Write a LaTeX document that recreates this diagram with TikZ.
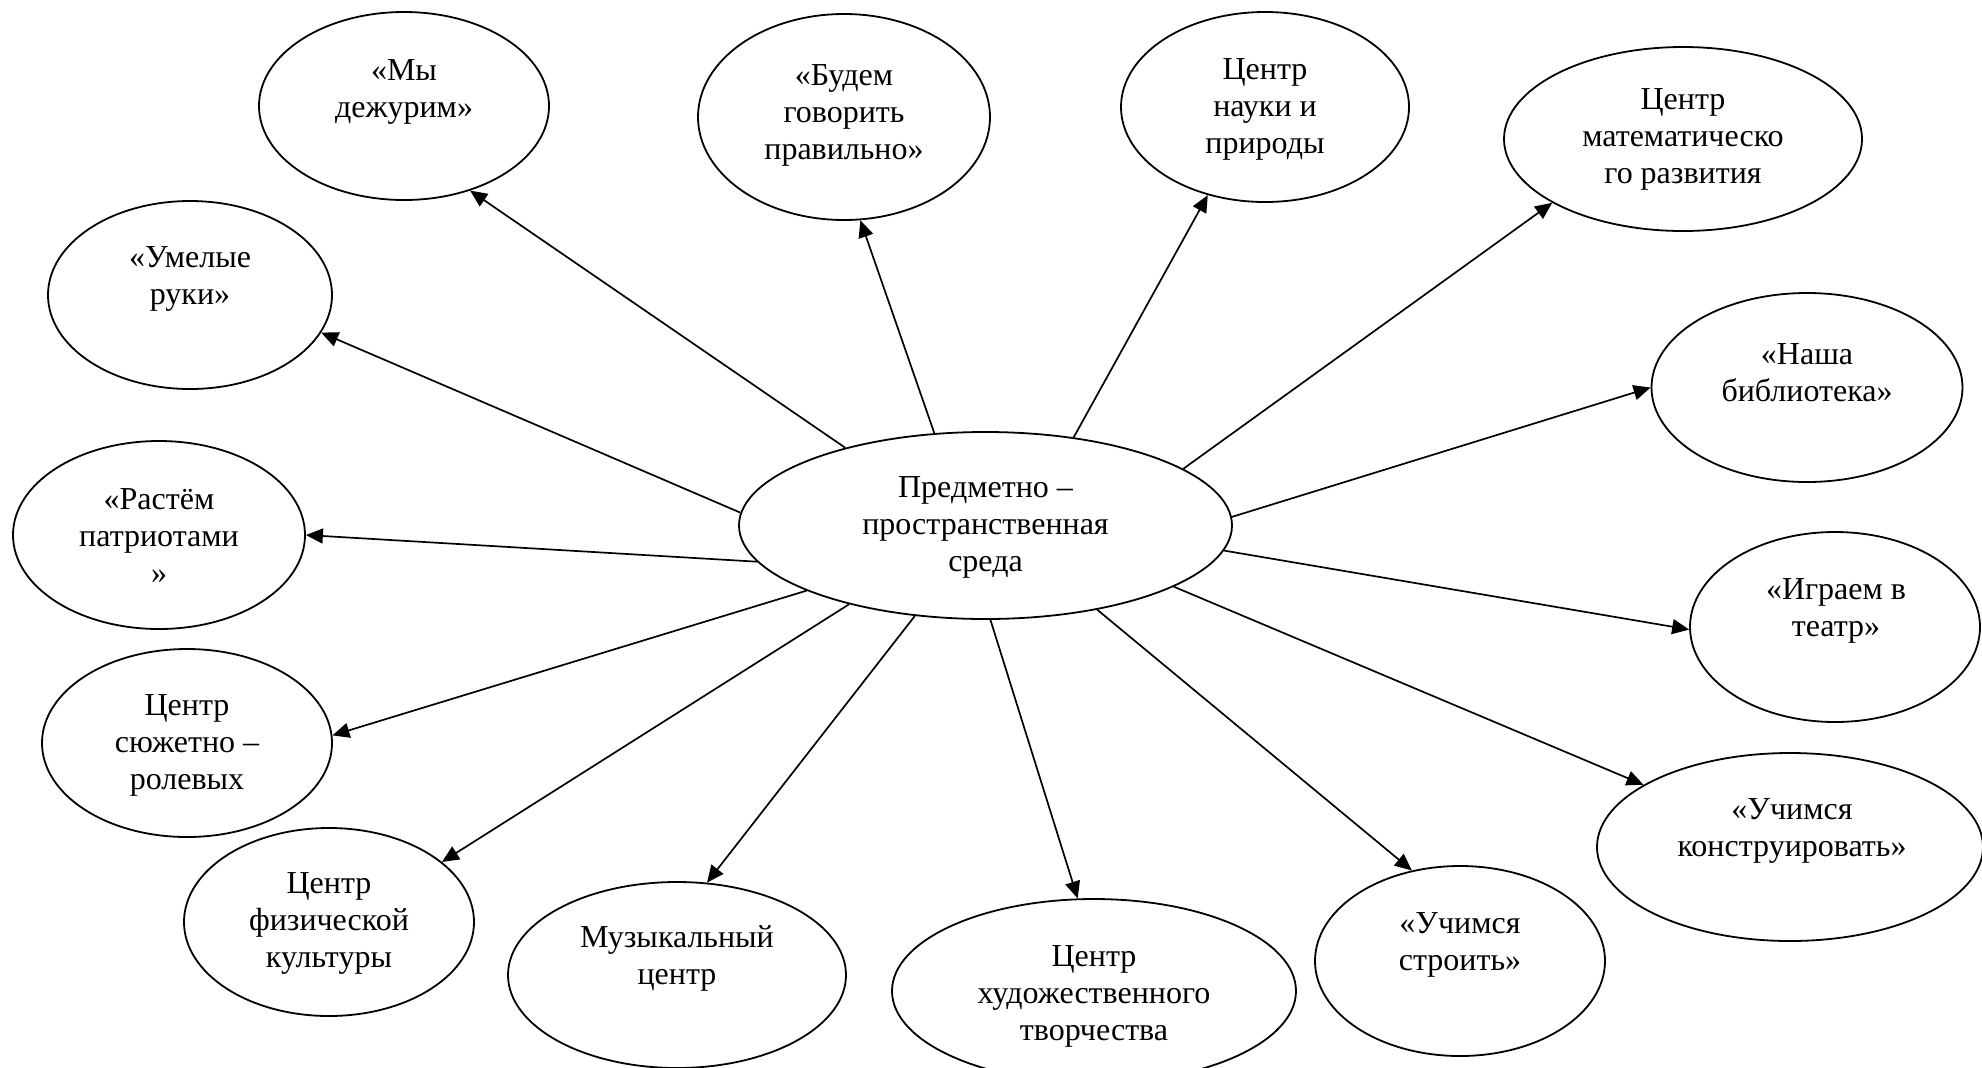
\documentclass[tikz,border=0pt]{standalone}
\usepackage{fontspec}
\setmainfont{Liberation Serif}
\usetikzlibrary{shapes.geometric,arrows.meta}
\begin{document}
\begin{tikzpicture}[x=0.5pt,y=-0.5pt,
  ell/.style={draw, ellipse, line width=0.9pt, inner sep=0pt},
  txt/.style={align=center, font=\fontsize{16}{18.5}\selectfont, inner sep=0pt},
  arr/.style={-{Triangle[length=8.5pt,width=7.5pt]}, line width=0.85pt}]
\useasboundingbox (0,0) rectangle (1982,1067);
% ellipses (minimum width/height in pt = half-axes in px)
\node[ell, minimum width=246.5pt, minimum height=93.5pt] (c) at (985.5,525.5) {};
\node[ell, minimum width=145pt, minimum height=94pt] (my) at (404,106) {};
\node[ell, minimum width=146pt, minimum height=103pt] (bud) at (844,117) {};
\node[ell, minimum width=144pt, minimum height=95pt] (nauka) at (1265,107) {};
\node[ell, minimum width=179pt, minimum height=92pt] (mat) at (1683,139) {};
\node[ell, minimum width=142pt, minimum height=94pt] (um) at (190,295) {};
\node[ell, minimum width=155.5pt, minimum height=94.5pt] (bib) at (1807,387.5) {};
\node[ell, minimum width=146pt, minimum height=94pt] (ras) at (159,535) {};
\node[ell, minimum width=145pt, minimum height=95pt] (igr) at (1835,627) {};
\node[ell, minimum width=145pt, minimum height=94pt] (sju) at (187,743) {};
\node[ell, minimum width=145pt, minimum height=94pt] (fiz) at (329,922) {};
\node[ell, minimum width=169pt, minimum height=93pt] (muz) at (677,975) {};
\node[ell, minimum width=202pt, minimum height=92pt] (hud) at (1094,991) {};
\node[ell, minimum width=145pt, minimum height=95pt] (str) at (1460,961) {};
\node[ell, minimum width=193pt, minimum height=94pt] (kon) at (1790,847) {};
% texts
\node[txt] (c-t) at (985.5,527) {Предметно –\\пространственная\\среда};
\node[txt] (my-t) at (404,92) {«Мы\\дежурим»};
\node[txt] (bud-t) at (844,115) {«Будем\\говорить\\правильно»};
\node[txt] (nauka-t) at (1265,109) {Центр\\науки и\\природы};
\node[txt] (mat-t) at (1683,139) {Центр\\математическо\\го развития};
\node[txt] (um-t) at (190,279) {«Умелые\\руки»};
\node[txt] (bib-t) at (1807,373) {«Наша\\библиотека»};
\node[txt] (ras-t) at (159,536) {«Растём\\патриотами\\»};
\node[txt] (igr-t) at (1836,611) {«Играем в\\театр»};
\node[txt] (sju-t) at (187,745) {Центр\\сюжетно –\\ролевых};
\node[txt] (fiz-t) at (329,923) {Центр\\физической\\культуры};
\node[txt] (muz-t) at (677,958) {Музыкальный\\центр};
\node[txt] (hud-t) at (1094,996) {Центр\\художественного\\творчества};
\node[txt] (str-t) at (1460,945) {«Учимся\\строить»};
\node[txt] (kon-t) at (1792,831) {«Учимся\\конструировать»};
% connectors
\draw[arr] (c.151.3) -- (my.-52.7);
\draw[arr] (c.119.3) -- (bud.-81.2);
\draw[arr] (c.45.6) -- (nauka.-123);
\draw[arr] (c.16.6) -- (mat.-154.8);
\draw[arr] (c.177.6) -- (um.-16.2);
\draw[arr] (c.2.4) -- (bib.180);
\draw[arr] (c.189.9) -- (ras.0);
\draw[arr] (c.-6.3) -- (igr.181);
\draw[arr] (c.-160.6) -- (sju.3.5);
\draw[arr] (c.-150.2) -- (fiz.28.3);
\draw[arr] (c.-128.4) -- (muz.72.1);
\draw[arr] (c.-87.5) -- (hud.100.1);
\draw[arr] (c.-37.2) -- (str.118.7);
\draw[arr] (c.-18.1) -- (kon.157.8);
\end{tikzpicture}
\end{document}
